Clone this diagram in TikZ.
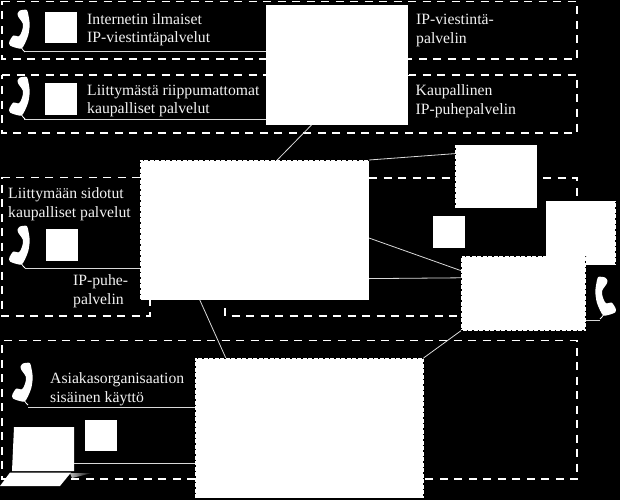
\documentclass[tikz,border=0pt]{standalone}
\usepackage{fontspec}
\setmainfont{Liberation Serif}
\tikzset{
  server/.style={draw=black, dash pattern=on 1.5pt off 4pt, fill=white, line width=1pt, anchor=north west, inner sep=0pt, outer sep=0pt},
  zone/.style={draw=white, line width=1.5pt, dash pattern=on 8pt off 6.5pt},
  link/.style={draw=white!85!black, line width=0.8pt},
  tag/.style={text=white!95!black, font=\fontsize{15.7}{18.5}\selectfont, align=left, anchor=north west, inner sep=0pt},
  square/.style={draw=none, fill=white, minimum width=32pt, minimum height=31.5pt, inner sep=0pt, outer sep=0pt, anchor=north west},
  handset/.pic={
    \fill[white] plot[smooth cycle, tension=0.45] coordinates {(0,-19.5) (6.7,-20) (8.7,-13.3) (9.7,-5)
      (8.3,5) (5,13.3) (1.7,18.5) (-3.3,18) (-10,15.5) (-10.7,11.7) (-6.7,5.5) (-1.7,6.5)
      (0.7,4) (2.7,-1.7) (2.7,-6.7) (-1.7,-13.3) (-2.3,-16.7)};
    \draw[white, line width=0.8pt] (1,17) -- (3,20) -- (5,22);
  }
}
\begin{document}
\begin{tikzpicture}[x=1pt, y=-1pt]
  \fill[black] (0,0) rectangle (620,500);
  \useasboundingbox (0,0) rectangle (620,500);

  % Draw the dashed zones
  \draw[zone] (2,1.5) -- (577,1.5) -- (577,59) -- (2,59) -- cycle;
  \draw[zone] (2,75) -- (577,75) -- (577,133) -- (2,133) -- cycle;
  \draw[zone] (140,177.5) -- (2,177.5) -- (2,316) -- (150,316) -- (150,300);
  \draw[zone] (225,308) -- (225,316) -- (461,316);
  \draw[zone] (369,178) -- (577,178) -- (577,201);
  \draw[zone] (195,479) -- (2,479) -- (2,340.5) -- (577,340.5) -- (577,479) -- (423,479);

  % Draw the servers
  \node[server, minimum width=142.5pt, minimum height=120pt] at (265.7,5) (ipviesti) {};
  \node[server, minimum width=229pt, minimum height=140pt] at (140,160) (ippuhe) {};
  \node[server, minimum width=82pt, minimum height=63.3pt] at (455,144.7) (kytkin) {};
  \node[server, minimum width=70pt, minimum height=64.6pt] at (545.7,200.7) (yhdys) {};
  \node[server, minimum width=124.7pt, minimum height=74.7pt] at (461,256) (vaihde) {};
  \node[server, minimum width=228.5pt, minimum height=140pt] at (195,358) (sisainen) {};
  \fill[white] (546.5,254) rectangle (585,266);

  % Draw the squares
  \node[square] at (44.5,12) (sq1) {};
  \node[square] at (44.5,83) (sq2) {};
  \node[square] at (45.5,229) (sq3) {};
  \node[square] at (433,216) (sq4) {};
  \node[square] at (85,419.7) (sq5) {};

  % Draw the phones
  \pic at (20,30) {handset};
  \pic at (20,97) {handset};
  \pic at (20,246) {handset};
  \pic at (23,383) {handset};
  \pic[xscale=-1] at (605,297) {handset};
  \coordinate (tel1) at (25,51);
  \coordinate (tel2) at (24,119);
  \coordinate (tel3) at (25,268.5);
  \coordinate (tel4) at (28,407.5);
  \coordinate (tel5) at (600,320);

  % Draw the laptop
  \shade[left color=gray!55, right color=black] (70,473) -- (92,473) -- (72,478) -- cycle;
  \fill[white] (14,427) -- (74,427) -- (74,471) -- (12,471) -- cycle;
  \fill[white] (10,472.5) -- (71,472.5) -- (60,486) -- (0,486) -- cycle;
  \coordinate (pc) at (74,463);

  % Draw the labels
  \node[tag] at (87,13.3) (t1) {Internetin ilmaiset\\IP-viestintäpalvelut};
  \node[tag] at (87,84.5) (t2) {Liittymästä riippumattomat\\kaupalliset palvelut};
  \node[tag] at (8,187.5) (t3) {Liittymään sidotut\\kaupalliset palvelut};
  \node[tag] at (73,274.5) (t4) {IP-puhe-\\palvelin};
  \node[tag] at (50,372.5) (t5) {Asiakasorganisaation\\sisäinen käyttö};
  \node[tag] at (416,14) (t6) {IP-viestintä-\\palvelin};
  \node[tag] at (415.5,84.5) (t7) {Kaupallinen\\IP-puhepalvelin};

  % Draw the links
  \draw[link] (tel1) -- (tel1 -| ipviesti.west);
  \draw[link] (tel2) -- (tel2 -| ipviesti.west);
  \draw[link] (tel3) -- (tel3 -| ippuhe.west);
  \draw[link] (tel4) -- (tel4 -| sisainen.west);
  \draw[link] (pc) -- (pc -| sisainen.west);
  \draw[link] (tel5) -- (tel5 -| vaihde.east);
  \draw[link] (ipviesti.247.4) -- (ippuhe.72.2);
  \draw[link] (ippuhe.north east) -- (kytkin.151.2);
  \draw[link] (ippuhe.356) -- (vaihde.160.2);
  \draw[link] (ippuhe.337.3) -- (vaihde.166.1);
  \draw[link] (ippuhe.232.6) -- (sisainen.140.7);
  \draw[link] (sisainen.north east) -- (vaihde.south west);
\end{tikzpicture}
\end{document}
